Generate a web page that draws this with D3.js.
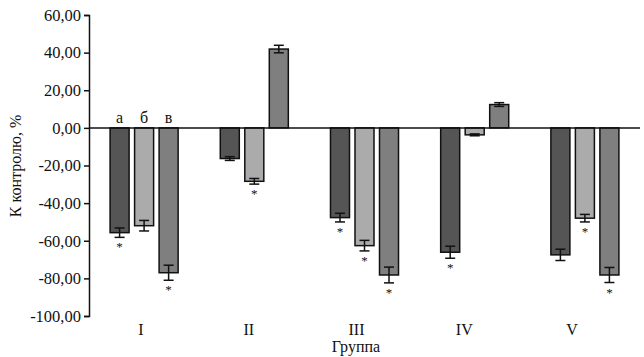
<!DOCTYPE html>
<html>
<head>
<meta charset="utf-8">
<script src="https://cdn.jsdelivr.net/npm/d3@7"></script>
<style>
  body { margin: 0; background: #fff; }
</style>
</head>
<body>
<div id="chart"></div>
<script>
// data
const groups = ["I", "II", "III", "IV", "V"];
const series = ["а", "б", "в"];
const valA = [-55.7, -16.3, -47.7, -66.1, -67.5];
const valB = [-52.0, -28.4, -62.6, -3.7, -48.0];
const valC = [-77.0, 41.9, -78.2, 12.4, -78.2];
const errA = [2.5, 1.0, 2.3, 3.2, 3.0];
const errB = [2.8, 1.5, 2.8, 0.5, 2.0];
const errC = [4.0, 2.0, 4.2, 1.0, 4.0];
const starA = [true, false, true, true, false];
const starB = [false, true, true, false, true];
const starC = [true, false, true, false, true];
const yTicks = [60, 40, 20, 0, -20, -40, -60, -80, -100];

const colors = { "а": "#555555", "б": "#ababab", "в": "#7f7f7f" };

const W = 644, H = 357;
const margin = { top: 15, right: 4, bottom: 41, left: 89 };
const serif = "Liberation Serif";

const svg = d3.select("#chart").append("svg")
    .attr("width", W)
    .attr("height", H)
    .style("font-family", serif);

const x0 = d3.scaleBand()
    .domain(groups)
    .range([margin.left, W - margin.right])
    .padding(0);

const x1 = d3.scaleBand()
    .domain(series)
    .range([0, x0.bandwidth()])
    .paddingInner(0.224)
    .paddingOuter(0.86);

const y = d3.scaleLinear()
    .domain([-100, 60])
    .range([H - margin.bottom, margin.top]);

const data = [];
groups.forEach((g, i) => {
    data.push({ g: g, s: "а", v: valA[i], e: errA[i], star: starA[i] });
    data.push({ g: g, s: "б", v: valB[i], e: errB[i], star: starB[i] });
    data.push({ g: g, s: "в", v: valC[i], e: errC[i], star: starC[i] });
});

// y axis
const yAxis = svg.append("g")
    .attr("transform", "translate(" + margin.left + ",0)")
    .call(d3.axisLeft(y)
        .tickValues(yTicks)
        .tickSize(5)
        .tickFormat(d => d3.format(".2f")(d).replace(".", ",").replace("−", "-")));
yAxis.attr("font-family", null).attr("font-size", null);
yAxis.select(".domain").attr("stroke", "#111").attr("stroke-width", 1.5);
yAxis.selectAll(".tick line").attr("stroke", "#111").attr("stroke-width", 1.5);
yAxis.selectAll(".tick text")
    .attr("x", -8)
    .attr("fill", "#111")
    .style("font-family", serif)
    .style("font-size", "16.5px");

// bars
const xPos = d => x0(d.g) + x1(d.s);
svg.append("g").selectAll("rect")
    .data(data)
    .join("rect")
    .attr("x", xPos)
    .attr("width", x1.bandwidth())
    .attr("y", d => y(Math.max(0, d.v)))
    .attr("height", d => Math.abs(y(d.v) - y(0)))
    .attr("fill", d => colors[d.s])
    .attr("stroke", "#111")
    .attr("stroke-width", 1.5);

// error bars
const eb = svg.append("g").attr("stroke", "#111").attr("stroke-width", 1.5);
data.forEach(d => {
    const cx = xPos(d) + x1.bandwidth() / 2;
    const cap = 5;
    eb.append("line").attr("x1", cx).attr("x2", cx)
        .attr("y1", y(d.v - d.e)).attr("y2", y(d.v + d.e));
    eb.append("line").attr("x1", cx - cap).attr("x2", cx + cap)
        .attr("y1", y(d.v - d.e)).attr("y2", y(d.v - d.e));
    eb.append("line").attr("x1", cx - cap).attr("x2", cx + cap)
        .attr("y1", y(d.v + d.e)).attr("y2", y(d.v + d.e));
});

// stars
svg.append("g").selectAll("text")
    .data(data.filter(d => d.star))
    .join("text")
    .attr("x", d => xPos(d) + x1.bandwidth() / 2)
    .attr("y", d => y(d.v - d.e) + 14)
    .attr("text-anchor", "middle")
    .attr("fill", "#111")
    .style("font-size", "13px")
    .text("*");

// zero line
svg.append("line")
    .attr("x1", margin.left).attr("x2", W - margin.right)
    .attr("y1", y(0)).attr("y2", y(0))
    .attr("stroke", "#111")
    .attr("stroke-width", 1.5);

// series letters above group I
svg.append("g").selectAll("text")
    .data(series)
    .join("text")
    .attr("x", s => x0(groups[0]) + x1(s) + x1.bandwidth() / 2)
    .attr("y", y(0) - 5)
    .attr("text-anchor", "middle")
    .attr("fill", "#111")
    .style("font-size", "16px")
    .text(s => s);

// group labels (drawn slightly left of the bar clusters, as in the source)
const xLab = d3.scalePoint()
    .domain(groups)
    .range([141, 572]);
svg.append("g").selectAll("text")
    .data(groups)
    .join("text")
    .attr("x", g => xLab(g))
    .attr("y", 335)
    .attr("text-anchor", "middle")
    .attr("fill", "#111")
    .style("font-size", "16px")
    .text(g => g);

// axis titles
svg.append("text")
    .attr("x", 356)
    .attr("y", 352)
    .attr("text-anchor", "middle")
    .attr("fill", "#111")
    .style("font-size", "16px")
    .text("Группа");

svg.append("text")
    .attr("transform", "translate(21,166) rotate(-90)")
    .attr("text-anchor", "middle")
    .attr("fill", "#111")
    .style("font-size", "16px")
    .text("К контролю, %");
</script>
</body>
</html>
